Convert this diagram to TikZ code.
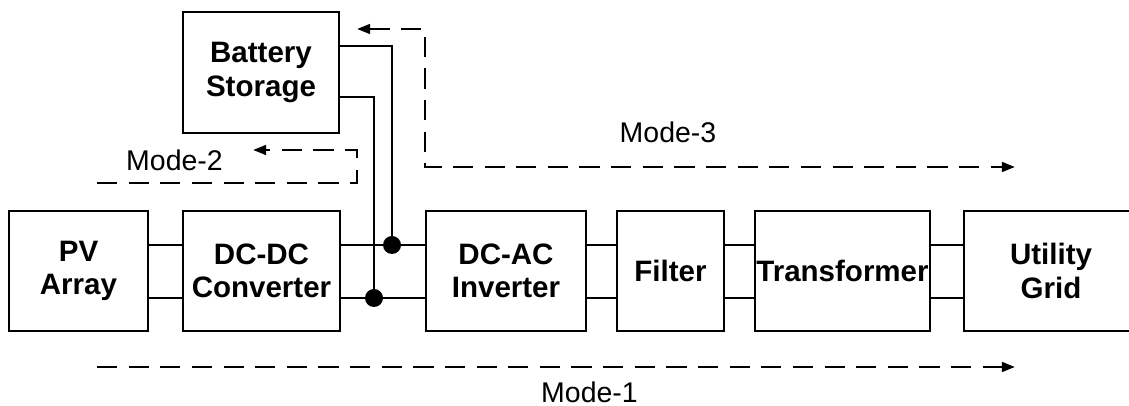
\documentclass[tikz,border=0pt]{standalone}
\usepackage{fontspec}
\setmainfont{Liberation Sans}
\usetikzlibrary{arrows.meta}

\tikzset{
    block/.style={draw, line width=1.6pt, inner sep=0pt, align=center,
        font=\fontsize{16.8}{19}\selectfont\bfseries, minimum height=2.4cm},
    wire/.style={line width=1.2pt},
    flow/.style={line width=1.5pt, dash pattern=on 11.5pt off 6.5pt,
        -{Triangle[length=7.5pt,width=5.5pt]}},
    modetext/.style={font=\fontsize{16.2}{18}\selectfont},
    junction/.style={circle, fill, inner sep=0pt, minimum size=0.36cm}
}

\begin{document}
\begin{tikzpicture}
    \useasboundingbox (0,0) rectangle (22.58,8.12);
    % Power chain
    \node[block, minimum width=2.78cm] (pv) at (1.57,2.70) {PV\\Array};
    \node[block, minimum width=3.14cm] (dcdc) at (5.23,2.70) {DC-DC\\Converter};
    \node[block, minimum width=3.20cm] (dcac) at (10.12,2.70) {DC-AC\\Inverter};
    \node[block, minimum width=2.14cm] (filter) at (13.41,2.70) {Filter};
    \node[block, minimum width=3.50cm] (trans) at (16.85,2.70) {Transformer};
    \node[block, minimum width=3.48cm] (grid) at (21.02,2.70) {Utility\\Grid};
    \node[block, minimum width=3.12cm, minimum height=2.42cm] (battery) at (5.22,6.67) {Battery\\Storage};

    \foreach \a/\b in {pv/dcdc, dcdc/dcac, dcac/filter, filter/trans, trans/grid} {
        \draw[wire] ([yshift=0.52cm]\a.east) -- ([yshift=0.52cm]\b.west);
        \draw[wire] ([yshift=-0.54cm]\a.east) -- ([yshift=-0.54cm]\b.west);
    }

    % Battery taps on the DC link
    \node[junction] (tapA) at (7.84,3.22) {};
    \node[junction] (tapB) at (7.48,2.16) {};
    \draw[wire] ([yshift=0.53cm]battery.east) -| (tapA);
    \draw[wire] ([yshift=-0.49cm]battery.east) -| (tapB);

    % Mode-1
    \coordinate (m1start) at (1.94,0.78);
    \coordinate (m1end) at (20.30,0.78);
    \draw[flow] (m1start) -- (m1end);
    \node[modetext] (mode1) at (11.79,0.28) {Mode-1};

    % Mode-2
    \coordinate (m2start) at (1.94,4.46);
    \coordinate (m2turn) at (7.14,5.12);
    \coordinate (m2end) at (5.06,5.12);
    \draw[flow] (m2start) -| (m2turn) -- (m2end);
    \node[modetext] (mode2) at (3.49,4.92) {Mode-2};

    % Mode-3
    \coordinate (m3start) at (7.14,7.54);
    \coordinate (m3turn) at (8.50,4.78);
    \coordinate (m3end) at (20.30,4.78);
    \draw[flow, {Triangle[length=7.5pt,width=5.5pt]}-{Triangle[length=7.5pt,width=5.5pt]}]
        (m3start) -| (m3turn) -- (m3end);
    \node[modetext] (mode3) at (13.36,5.48) {Mode-3};
\end{tikzpicture}
\end{document}
